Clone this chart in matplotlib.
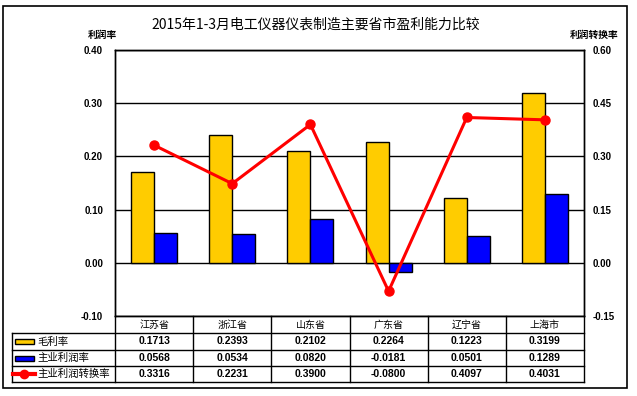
import matplotlib.pyplot as plt
from matplotlib.patches import Rectangle
from matplotlib.lines import Line2D

plt.rcParams['font.family'] = ['Noto Sans CJK SC', 'DejaVu Sans']

# === data ===
categories = ['江苏省', '浙江省', '山东省', '广东省', '辽宁省', '上海市']
gross_margin = [0.1713, 0.2393, 0.2102, 0.2264, 0.1223, 0.3199]
profit_rate = [0.0568, 0.0534, 0.0820, -0.0181, 0.0501, 0.1289]
conversion_rate = [0.3316, 0.2231, 0.3900, -0.0800, 0.4097, 0.4031]
series_names = ['毛利率', '主业利润率', '主业利润转换率']
left_ticks = [-0.10, 0.00, 0.10, 0.20, 0.30, 0.40]
right_ticks = [-0.15, 0.00, 0.15, 0.30, 0.45, 0.60]

GOLD = '#FFCC00'
BLUE = '#0000FF'
RED = '#FF0000'
NUM_FONT = 'Liberation Sans'

# === figure / axes (pixel layout) ===
W, H = 637, 396
L, R, T, B = 115, 584, 50, 316
fig = plt.figure(figsize=(W / 100, H / 100), dpi=100)
ax = fig.add_axes([L / W, 1 - B / H, (R - L) / W, (B - T) / H])


def axx(px):
    return (px - L) / (R - L)


def axy(py):
    return (B - py) / (B - T)


x = list(range(len(categories)))
bw = 0.295
ax.bar([i - bw / 2 for i in x], gross_margin, width=bw, color=GOLD,
       edgecolor='black', linewidth=1, zorder=2)
ax.bar([i + bw / 2 for i in x], profit_rate, width=bw, color=BLUE,
       edgecolor='black', linewidth=1, zorder=2)
ax.set_xlim(-0.5, len(categories) - 0.5)
ax.set_ylim(left_ticks[0], left_ticks[-1])
ax.set_yticks(left_ticks)
ax.set_yticklabels([f'{v:.2f}' for v in left_ticks], fontfamily=NUM_FONT,
                   fontweight='bold', fontsize=7)
ax.tick_params(axis='y', length=0, pad=8.6)
ax.set_xticks([])
ax.yaxis.grid(True, color='black', linewidth=1)
ax.set_axisbelow(True)
for s in ax.spines.values():
    s.set_linewidth(1)

ax2 = ax.twinx()
ax2.plot(x, conversion_rate, color=RED, linewidth=2.2, marker='o',
         markersize=6.5, zorder=3)
ax2.set_ylim(right_ticks[0], right_ticks[-1])
ax2.set_yticks(right_ticks)
ax2.set_yticklabels([f'{v:.2f}' for v in right_ticks], fontfamily=NUM_FONT,
                    fontweight='bold', fontsize=7)
ax2.tick_params(axis='y', length=0, pad=6.5)
for s in ax2.spines.values():
    s.set_linewidth(1)

# === titles ===
fig.text(316 / W, 1 - 25 / H, '2015年1-3月电工仪器仪表制造主要省市盈利能力比较',
         ha='center', va='center', fontsize=10)
fig.text(102 / W, 1 - 35 / H, '利润率', ha='center', va='center',
         fontsize=7, fontweight='bold')
fig.text(594 / W, 1 - 35 / H, '利润转换率', ha='center', va='center',
         fontsize=7, fontweight='bold')

# === data table ===
row_px = [316, 333, 350, 366, 382]
n = len(categories)
tl = dict(color='black', linewidth=1, transform=ax.transAxes, clip_on=False)
for py in row_px[1:]:
    ax.add_line(Line2D([axx(12), 1], [axy(py), axy(py)], **tl))
ax.add_line(Line2D([axx(12), axx(12)], [axy(333), axy(382)], **tl))
for j in range(n + 1):
    ax.add_line(Line2D([j / n, j / n], [axy(316), axy(382)], **tl))

for j, c in enumerate(categories):
    ax.text((j + 0.5) / n, axy((316 + 333) / 2), c, transform=ax.transAxes,
            ha='center', va='center', fontsize=7.2)

rows = [gross_margin, profit_rate, conversion_rate]
for r, vals in enumerate(rows):
    yc = axy((row_px[r + 1] + row_px[r + 2]) / 2)
    for j, v in enumerate(vals):
        ax.text((j + 0.5) / n, yc, f'{v:.4f}', transform=ax.transAxes,
                ha='center', va='center', fontsize=7.5, fontweight='bold',
                fontfamily=NUM_FONT)
    ax.text(axx(37), yc, series_names[r], transform=ax.transAxes,
            ha='left', va='center', fontsize=7.5)

# legend keys in the row-label cells
for r, col in enumerate([GOLD, BLUE]):
    yc = (row_px[r + 1] + row_px[r + 2]) / 2
    ax.add_patch(Rectangle((axx(15), axy(yc + 2.5)), axx(34) - axx(15),
                           axy(yc - 2.5) - axy(yc + 2.5), facecolor=col,
                           edgecolor='black', linewidth=1,
                           transform=ax.transAxes, clip_on=False))
yc = (row_px[3] + row_px[4]) / 2
ax.add_line(Line2D([axx(13), axx(35)], [axy(yc), axy(yc)], color=RED,
                   linewidth=3, transform=ax.transAxes, clip_on=False))
ax.add_line(Line2D([axx(24)], [axy(yc)], color=RED, marker='o', markersize=6,
                   transform=ax.transAxes, clip_on=False))

# outer border
fig.add_artist(Rectangle((3 / W, 1 - 388 / H), 624 / W, 382 / H,
                         transform=fig.transFigure, fill=False,
                         edgecolor='black', linewidth=1.2))

plt.savefig('out.png', dpi=100)
